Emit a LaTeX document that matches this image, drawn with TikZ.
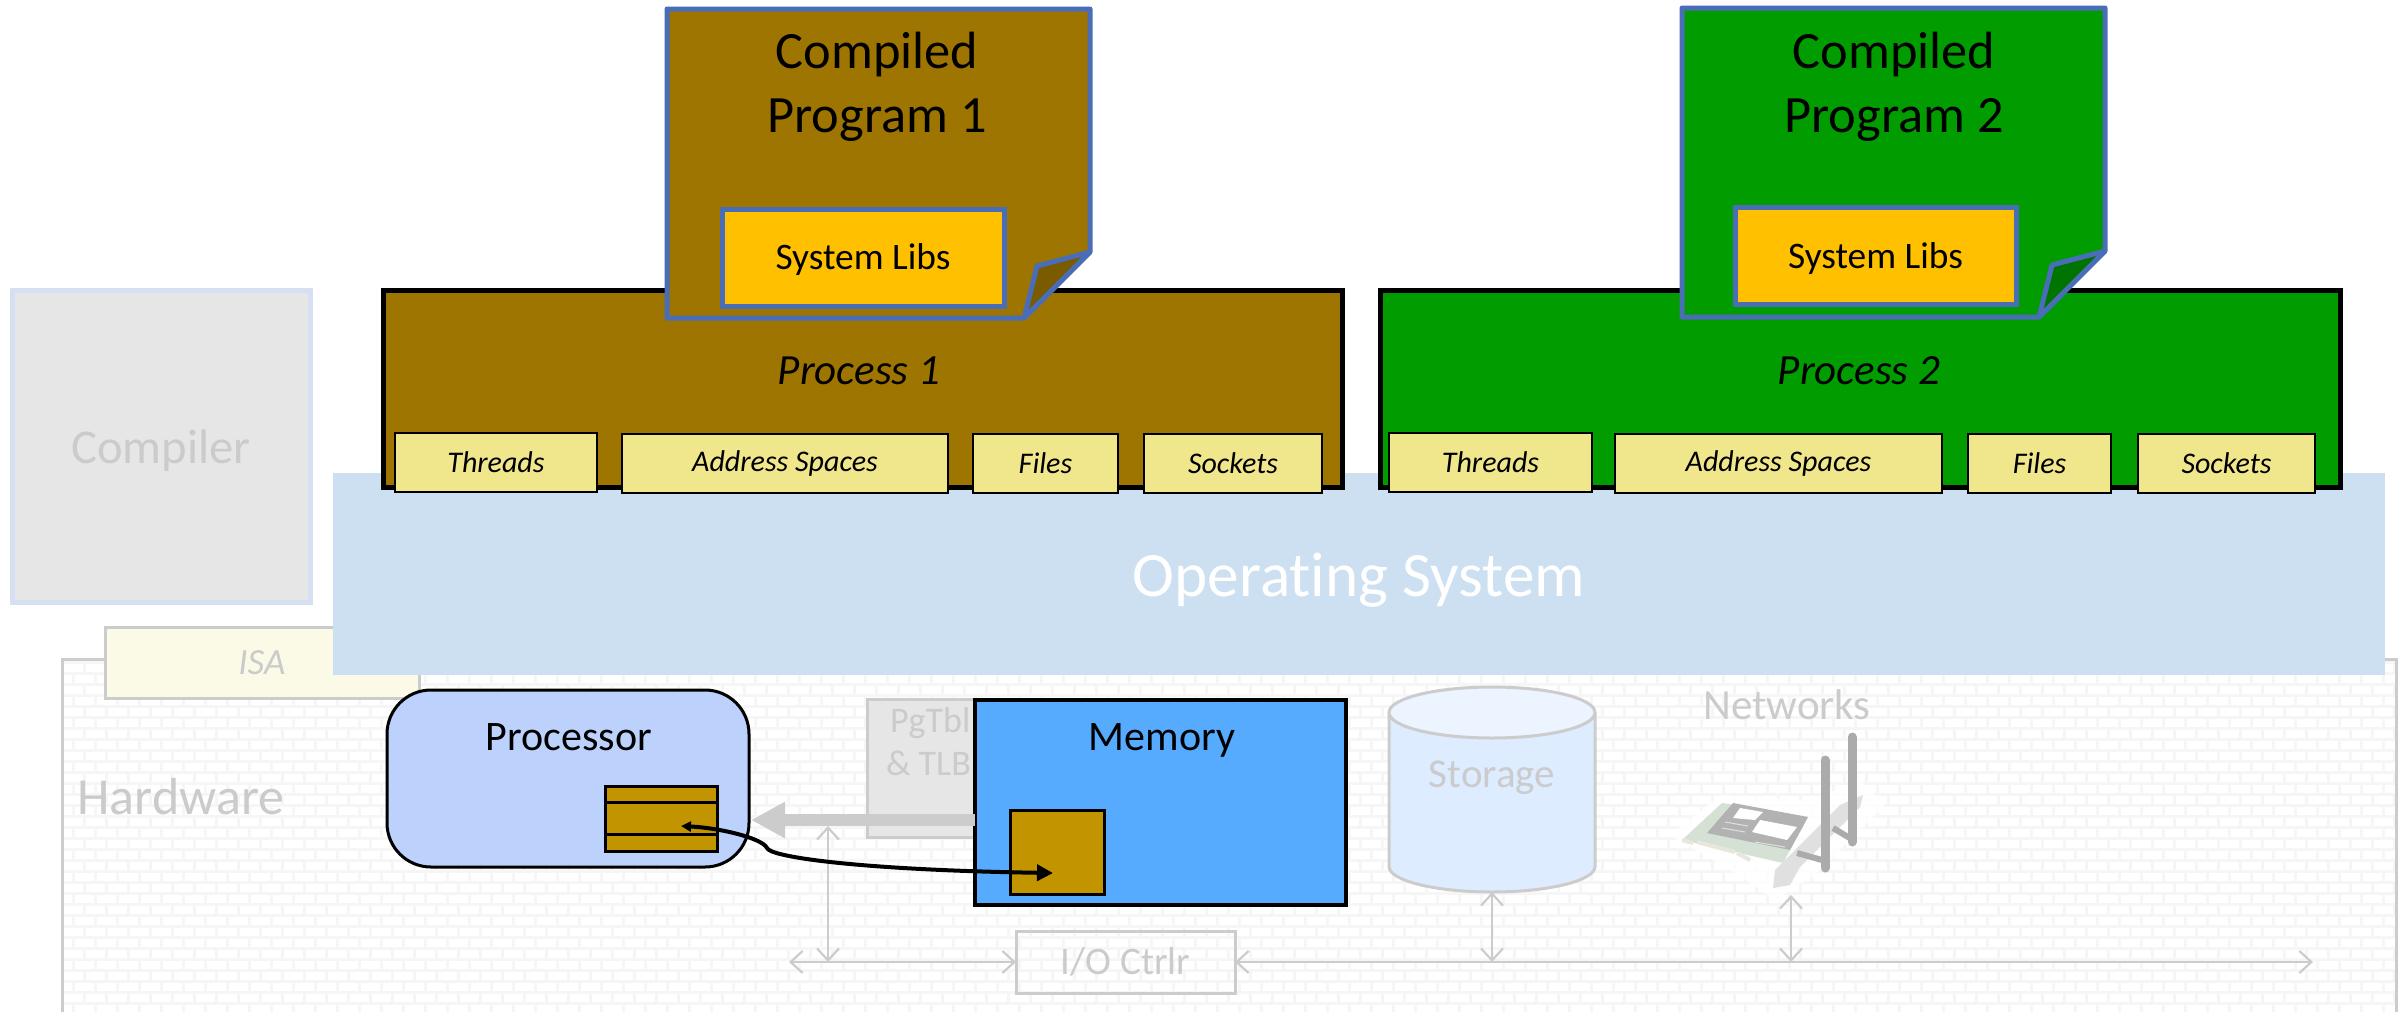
\documentclass[tikz,border=0pt]{standalone}
\usepackage{fontspec}
\setmainfont[Ligatures={NoCommon,TeX}]{Carlito}
\usetikzlibrary{arrows.meta}
\definecolor{gtext}{HTML}{CBCBCB}
\definecolor{gline}{HTML}{CCCCCC}
\definecolor{bline}{HTML}{4A6DB8}
\definecolor{brown}{HTML}{9E7500}
\definecolor{brownd}{HTML}{7A5B00}
\definecolor{grn}{HTML}{009C00}
\definecolor{grnd}{HTML}{007400}
\definecolor{gold}{HTML}{FFC000}
\definecolor{khaki}{HTML}{F0E68C}
\definecolor{ochre}{HTML}{C29400}
\definecolor{osblue}{HTML}{CCE0F2}
\definecolor{brick}{HTML}{F6F6F6}
\definecolor{cpublue}{HTML}{BDD1FD}
\definecolor{memblue}{HTML}{56ABFF}
\definecolor{storbody}{HTML}{DEECFF}
\definecolor{stortop}{HTML}{EBF4FF}
\definecolor{palegrey}{HTML}{E6E6E6}
\definecolor{palebline}{HTML}{D6E0F2}
\definecolor{isafill}{HTML}{FAFAE6}
\newcommand{\fsz}[1]{\fontsize{#1pt}{#1pt}\selectfont}
\newcommand{\bx}[7]{%
  \pgfmathsetmacro\bw{(#4-#2)*0.5}%
  \pgfmathsetmacro\bh{(#5-#3)*0.5}%
  \node[#6,minimum width=\bw pt,minimum height=\bh pt] (#1) at ({(#2+#4)/2},{(#3+#5)/2}) {#7};}
\tikzset{
  every node/.style={inner sep=0pt,outer sep=0pt,align=center},
  lbl/.style={text=gtext},
  thin arrow/.style={draw=gline,line width=1.1pt,{Straight Barb[length=6pt,width=11pt]}-{Straight Barb[length=6pt,width=11pt]}},
  tabbox/.style={draw=black,fill=khaki,line width=1pt,font=\fsz{15}\itshape},
  progline/.style={draw=bline,line width=2.5pt,line join=round},
  libbox/.style={draw=bline,fill=gold,line width=2.5pt},
  liblbl/.style={font=\fsz{18.7}},
  procbox/.style={draw=black,line width=2.5pt},
  ochrebox/.style={draw=black,fill=ochre,line width=1.5pt},
}
\begin{document}
\begin{tikzpicture}[x=0.5pt,y=-0.5pt]
\useasboundingbox (0,0) rectangle (2407,1012);
% hardware brick frame
\begin{scope}
  \clip (62,659) rectangle (2396,1012);
  \foreach \r in {0,...,33}{
    \draw[brick,line width=1.5pt] (62,{659+3+\r*11}) -- (2396,{659+3+\r*11});
  }
  \foreach \c in {0,...,107}{
    \draw[brick,line width=1.5pt,dash pattern=on 5.5pt off 5.5pt] ({62+\c*22},662) -- ({62+\c*22},1012);
    \draw[brick,line width=1.5pt,dash pattern=on 5.5pt off 5.5pt] ({62+11+\c*22},673) -- ({62+11+\c*22},1012);
  }
\end{scope}
\draw[gline,line width=1.5pt] (62,1012) -- (62,659) -- (2396,659) -- (2396,1012);
% compiler, ISA
\bx{compiler}{12}{290}{310}{602}{draw=palebline,fill=palegrey,line width=2.5pt}{}
\node[lbl,font=\fsz{24.3}] (complbl) at (161,451) {Compiler};
\bx{isa}{105}{627}{419}{698}{draw=gline,fill=isafill,line width=1.5pt,text=gtext,font=\fsz{18.5}\itshape}{ISA}
\node[lbl,font=\fsz{26}] (hw) at (181,797) {Hardware};
% PgTbl
\bx{pgtbl}{867}{699}{1060}{837}{draw=gline,fill=palegrey,line width=1.5pt}{}
\node[lbl,font=\fsz{18},align=left,anchor=north west] (pglbl) at (886,707) {\hspace*{2pt}PgTbl\\[3.5pt]\& TLB};
% I/O ctrl
\bx{ioctrl}{1016}{931}{1235}{993}{draw=gline,line width=1.5pt,text=gtext,font=\fsz{19.5}}{I/O Ctrlr}
% storage
\path[fill=storbody,draw=gline,line width=1.5pt] (1389,712.5) -- (1389,866.5) .. controls (1389,880.6) and (1435,892) .. (1492,892) .. controls (1549,892) and (1595,880.6) .. (1595,866.5) -- (1595,712.5);
\path[fill=stortop,draw=gline,line width=1.5pt] (1492,712.5) ellipse [x radius=103,y radius=25.5];
\node[lbl,font=\fsz{20.5}] (storage) at (1492,778) {Storage};
\coordinate (storbot) at (1492,892);
% network card
\node[lbl,font=\fsz{21.5}] (net) at (1787,705) {Networks};
\fill[white,opacity=.8] (1670,835) -- (1720,795) -- (1810,800) -- (1860,780) -- (1885,805) -- (1815,875) -- (1775,900) -- (1730,870) -- cycle;
\fill[black!12] (1840,805) -- (1863,795) -- (1860,807) -- (1800,867) -- (1790,885) -- (1773,888) -- (1775,870) -- cycle;
\fill[green!30!black!17] (1722,803) -- (1808,817) -- (1783,863) -- (1682,840) -- cycle;
\fill[black!30] (1733,803) -- (1808,817) -- (1790,850) -- (1707,833) -- cycle;
\fill[white] (1740,808) -- (1763,812) -- (1755,820) -- (1733,818) -- cycle;
\fill[white] (1760,820) -- (1797,827) -- (1787,840) -- (1752,832) -- cycle;
\draw[black!12,line width=.5pt] (1725,822) -- (1748,826) (1722,828) -- (1745,832) (1755,842) -- (1785,847);
\draw[yellow!30!black!15!white,line width=2pt] (1682,840) -- (1693,843) (1697,842) -- (1735,852) (1737,853) -- (1750,860);
\draw[black!33,line width=3pt] (1797,853) -- (1822,860) (1833,828) -- (1853,840);
\draw[black!33,line width=4.5pt,line cap=round] (1825,760) -- (1825,868) (1852,737) -- (1852,842);
% buses
\coordinate (busL) at (789,962);
\coordinate (busR) at (2313,962);
\coordinate (busA) at (828,962);
\coordinate (cpuB) at (828,826);
\coordinate (busS) at (1492,962);
\coordinate (busN) at (1791,962);
\coordinate (netB) at (1791,895);
\draw[thin arrow] (busL) -- (ioctrl.west);
\draw[thin arrow] (ioctrl.east) -- (busR);
\draw[thin arrow] (cpuB) -- (busA);
\draw[thin arrow] (storbot) -- (busS);
\draw[thin arrow] (netB) -- (busN);
% processor and memory
\bx{proc}{387}{690}{749}{867}{draw=black,fill=cpublue,rounded corners=22pt,line width=1.5pt}{}
\node[font=\fsz{21}] (proclbl) at (569,737) {Processor};
\bx{mem}{975}{700}{1346}{905}{draw=black,fill=memblue,line width=2pt}{}
\node[font=\fsz{21}] (memlbl) at (1162,740) {Memory};
% grey bus arrow
\coordinate (memw) at (975,820);
\coordinate (procE) at (751,820);
\draw[gline,line width=6pt,-{Triangle[length=17pt,width=17pt]}] (memw) -- (procE);
% register and page
\bx{reg}{605}{786}{717}{851}{ochrebox}{}
\draw[black,line width=1.5pt] (reg.west |- 0,802) -- (reg.east |- 0,802) (reg.west |- 0,834) -- (reg.east |- 0,834);
\bx{page}{1010}{810}{1104}{894}{ochrebox}{}
% curve
\coordinate (regpt) at (681,826);
\coordinate (pagept) at (1053,873);
\draw[black,line width=2pt,{Triangle[length=5pt,width=5pt]}-{Triangle[length=8pt,width=8pt]}] (regpt) .. controls (720,828) and (762,838) .. (767,848) .. controls (770,857) and (860,870) .. (pagept);
% OS
\bx{os}{333}{473}{2385}{675}{fill=osblue}{}
\node[text=white,font=\fsz{31.6}] (oslbl) at (1359,580) {Operating System};
% processes
\bx{p1}{383}{290}{1342}{487}{procbox,fill=brown}{}
\bx{p2}{1380}{290}{2340}{487}{procbox,fill=grn}{}
\node[font=\fsz{21.5}\itshape] (p1lbl) at (859,371) {Process 1};
\node[font=\fsz{21.5}\itshape] (p2lbl) at (1859,371) {Process 2};
\bx{t1a}{395}{433}{597}{492}{tabbox}{Threads}
\bx{t1b}{622}{434}{948}{493}{tabbox}{Address Spaces}
\bx{t1c}{973}{434}{1118}{493}{tabbox}{Files}
\bx{t1d}{1144}{434}{1322}{493}{tabbox}{Sockets}
\bx{t2a}{1389}{433}{1592}{492}{tabbox}{Threads}
\bx{t2b}{1615}{434}{1942}{493}{tabbox}{Address Spaces}
\bx{t2c}{1968}{434}{2111}{493}{tabbox}{Files}
\bx{t2d}{2138}{434}{2315}{493}{tabbox}{Sockets}
% compiled program 1
\path[progline,fill=brown] (667,9) -- (1090,9) -- (1090,252) -- (1024,318) -- (667,318) -- cycle;
\path[progline,fill=brownd] (1090,252) -- (1037,266) -- (1024,318) -- cycle;
\node[font=\fsz{26.2},align=center] (c1) at (877,87) {\vphantom{p}Compiled\\[6pt]Program 1};
\bx{lib1}{722}{209}{1004}{306}{libbox}{}
\node[liblbl] (lib1lbl) at (863,259.5) {System Libs};
% compiled program 2
\path[progline,fill=grn] (1682,8) -- (2105,8) -- (2105,251) -- (2039,317) -- (1682,317) -- cycle;
\path[progline,fill=grnd] (2105,251) -- (2052,265) -- (2039,317) -- cycle;
\node[font=\fsz{26.2},align=center] (c2) at (1894,87) {\vphantom{p}Compiled\\[6pt]Program 2};
\bx{lib2}{1735}{207}{2016}{304}{libbox}{}
\node[liblbl] (lib2lbl) at (1875.5,258.5) {System Libs};
\end{tikzpicture}
\end{document}
